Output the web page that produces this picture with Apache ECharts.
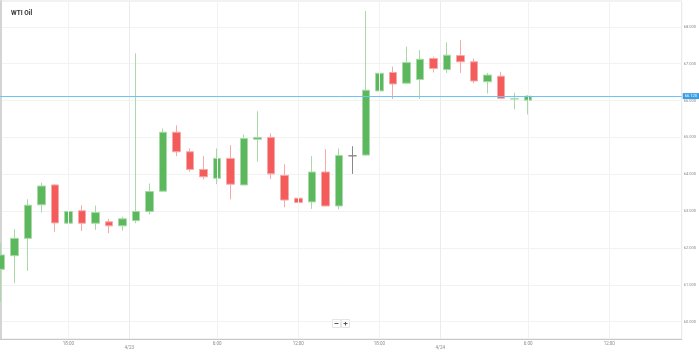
<!DOCTYPE html>
<html>
<head>
<meta charset="utf-8">
<script src="https://cdn.jsdelivr.net/npm/echarts@6/dist/echarts.min.js"></script>
<style>
  html, body { margin: 0; padding: 0; background: #fff; }
  #chart { width: 699px; height: 353px; }
</style>
</head>
<body>
<div id="chart"></div>
<script>
// Candle positions (hour slots) and OHLC values
const slots  = [0,1,2,3,4,5,6,7,8,9,10,11,12,13,14,15,16,17,18,19,20,21,22,23,24,25,26,27,28,29,30,31,32,33,34,35,36,37,38,39];
const opens  = [61.42,61.79,62.26,63.17,63.71,62.67,63.01,62.67,62.71,62.60,62.74,62.99,63.54,65.14,64.61,64.13,63.89,64.43,63.71,64.95,65.00,63.97,63.35,63.25,64.06,63.14,64.50,64.52,66.26,66.76,66.47,66.57,67.14,66.84,67.22,67.05,66.51,66.66,66.04,66.01];
const closes = [61.81,62.26,63.16,63.68,62.68,62.99,62.67,62.96,62.60,62.79,62.99,63.53,65.14,64.61,64.13,63.93,64.43,63.73,64.97,65.00,64.01,63.30,63.23,64.06,63.14,64.51,64.50,66.28,66.74,66.45,67.03,67.12,66.87,67.23,67.05,66.53,66.69,66.06,66.05,66.12];
const lows   = [60.54,61.04,61.38,62.96,62.44,62.66,62.46,62.49,62.40,62.47,62.67,62.91,63.53,64.49,64.07,63.86,63.73,63.32,63.70,64.34,63.87,63.10,62.46,63.06,63.12,63.05,64.01,64.50,65.33,66.04,66.46,66.04,66.76,66.75,66.75,66.47,66.19,66.04,65.76,65.62];
const highs  = [62.14,62.51,63.32,63.77,63.73,63.37,63.16,63.15,62.79,62.85,67.28,63.75,65.24,65.33,64.70,64.49,64.70,64.79,65.08,65.71,65.11,64.27,64.05,64.49,64.68,64.70,64.76,68.43,66.87,66.92,67.46,67.37,67.19,67.58,67.64,67.14,66.75,66.78,66.21,66.15];

// x-axis tick positions (in hour slots) and their labels
const tickPos    = [5, 9.5, 16, 22, 28, 32.5, 39, 45];
const tickLabels = ['18:00', '4/23', '6:00', '12:00', '18:00', '4/24', '6:00', '12:00'];
const tickIsDate = [false, true, false, false, false, true, false, false];

const title = 'WTI Oil';

const UP = '#5cb85c', UP_B = '#a9d9a9';
const DOWN = '#f45b5b', DOWN_B = '#f7a9a9';

const candles = slots.map((s, i) => {
  const item = { value: [s, opens[i], closes[i], lows[i], highs[i]] };
  if (opens[i] === closes[i]) {
    item.itemStyle = { color: '#777', color0: '#777', borderColor: '#888', borderColor0: '#888' };
  }
  return item;
});

const lastPrice = closes[closes.length - 1];

const vLines = tickPos.map((p, i) => ({
  xAxis: p,
  lineStyle: { color: tickIsDate[i] ? '#ebebeb' : '#f2f2f2', width: 1, type: 'solid' },
  label: {
    show: true,
    position: 'start',
    formatter: tickLabels[i],
    distance: tickIsDate[i] ? 6 : 2,
    color: '#8a8a8a',
    fontSize: 4.5,
    fontFamily: 'Roboto, sans-serif'
  }
}));

const chart = echarts.init(document.getElementById('chart'), null, { renderer: 'canvas' });
chart.setOption({
  animation: false,
  backgroundColor: '#ffffff',
  title: {
    text: title,
    left: 6, top: 5,
    textStyle: { fontSize: 6.5, fontWeight: 'bold', color: '#333', fontFamily: 'Roboto, sans-serif' }
  },
  grid: {
    left: 0, right: 17, top: 1, bottom: 14,
    show: true, borderColor: '#e4e4e4', borderWidth: 1
  },
  xAxis: {
    type: 'value',
    min: -0.06, max: 50.36,
    axisLine: { show: true, lineStyle: { color: '#c8c8c8', width: 1 } },
    axisTick: { show: false },
    axisLabel: { show: false },
    splitLine: { show: false }
  },
  yAxis: {
    type: 'value',
    position: 'right',
    min: 59.53, max: 68.70,
    splitNumber: 9,
    scale: true,
    axisLine: { show: true, lineStyle: { color: '#d4d4d4', width: 2 } },
    axisTick: { show: false },
    axisLabel: {
      showMinLabel: false, showMaxLabel: false,
      margin: 2,
      color: '#8a8a8a', fontSize: 4, fontFamily: 'Roboto, sans-serif',
      formatter: v => v.toFixed(3)
    },
    splitLine: { show: true, lineStyle: { color: '#f2f2f2', width: 1 } }
  },
  series: [{
    type: 'candlestick',
    data: candles,
    barWidth: 8,
    itemStyle: {
      color: UP, color0: DOWN,
      borderColor: UP_B, borderColor0: DOWN_B,
      borderWidth: 1
    },
    markLine: {
      silent: true,
      symbol: ['none', 'none'],
      animation: false,
      data: vLines.concat([{
        yAxis: lastPrice,
        lineStyle: { color: '#6cc4f2', width: 1, type: 'solid' },
        label: {
          show: true,
          position: 'end',
          distance: 1,
          formatter: lastPrice.toFixed(3),
          color: '#fff',
          backgroundColor: '#3b9de6',
          padding: [1, 2],
          fontSize: 4,
          fontFamily: 'Roboto, sans-serif'
        }
      }])
    }
  }],
  graphic: [
    { type: 'rect', shape: { x: 332.5, y: 319.5, width: 8, height: 8 }, style: { fill: '#fff', stroke: '#e4e4e4', lineWidth: 1 } },
    { type: 'line', shape: { x1: 334.5, y1: 323.5, x2: 338.5, y2: 323.5 }, style: { stroke: '#555', lineWidth: 1 } },
    { type: 'rect', shape: { x: 341.5, y: 319.5, width: 8, height: 8 }, style: { fill: '#fff', stroke: '#e4e4e4', lineWidth: 1 } },
    { type: 'line', shape: { x1: 343.5, y1: 323.5, x2: 347.5, y2: 323.5 }, style: { stroke: '#555', lineWidth: 1 } },
    { type: 'line', shape: { x1: 345.5, y1: 321.5, x2: 345.5, y2: 325.5 }, style: { stroke: '#555', lineWidth: 1 } }
  ]
});
</script>
</body>
</html>
